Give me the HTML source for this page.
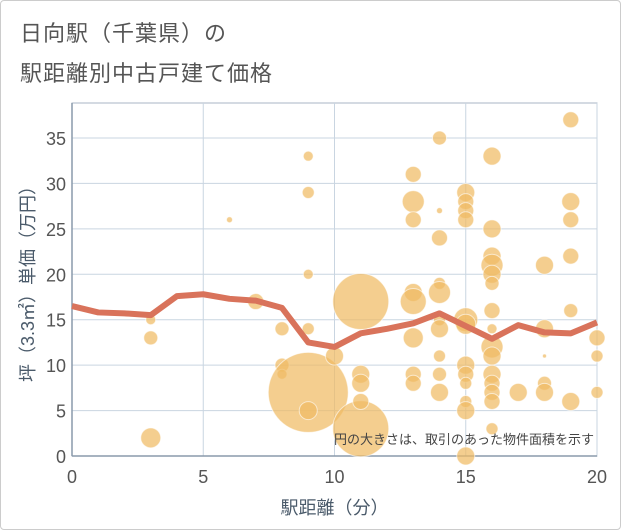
<!DOCTYPE html>
<html><head><meta charset="utf-8"><style>
body{margin:0;background:#fff;}
#wrap{position:relative;width:619px;height:528px;border:1px solid #ccc;border-radius:4px;font-family:"Liberation Sans","Noto Sans CJK JP",sans-serif;}
.t{position:absolute;left:19px;color:#555;font-size:22px;letter-spacing:1px;}
</style></head><body>
<div id="wrap">
<div class="t" style="top:15px">日向駅（千葉県）の</div>
<div class="t" style="top:55px">駅距離別中古戸建て価格</div>
<svg id="svg" width="621" height="530" style="position:absolute;left:-1px;top:-1px"></svg>
</div>
<script>
const lineX=[0,1,2,3,4,5,6,7,8,9,10,11,12,13,14,15,16,17,18,19,20];
const lineY=[16.5,15.8,15.7,15.5,17.6,17.8,17.3,17.1,16.3,12.5,12.0,13.5,14.0,14.6,15.7,14.3,12.9,14.4,13.6,13.5,14.7];
const bubX=[3,3,3,6,7,8,8,8,9,9,9,9,9,9,10,11,11,11,11,11,13,13,13,13,13,13,13,13,14,14,14,14,14,14,14,14,14,14,15,15,15,15,15,15,15,15,15,15,15,15,16,16,16,16,16,16,16,16,16,16,16,16,16,16,16,17,18,18,18,18,18,19,19,19,19,19,19,20,20,20];
const bubY=[15,13,2,26,17,14,10,9,33,29,20,14,7,5,11,17,3,9,8,6,31,28,26,18,17,13,9,8,35,27,24,19,18,15,14,11,9,7,29,28,27,26,15,14.5,10,9,8,6,5,0,33,25,22,21,20,19,16,14,12,11,9,8,7,6,3,7,21,14,11,8,7,37,28,26,22,16,6,13,11,7];
const bubR=[5,7,10,3,8,7,7,5,5,6,5,6,40,9,9,28,28,9,9,8,8,11,8,9,13,10,8,8,7,3,8,6,11,6,9,6,7,9,9,8,8,8,12,10,9,8,6,6,9,9,9,9,9,11,9,7,8,5,11,9,9,8,8,8,6,9,9,9,2,7,9,8,9,8,8,7,9,8,6,6];
const xTicks=[0,5,10,15,20];
const yTicks=[0,5,10,15,20,25,30,35];
const L=72,R=597,T=103,B=456,XMAX=20,YMAX=38.85;
const sx=v=>L+(R-L)*v/XMAX, sy=v=>B-(B-T)*v/YMAX;
const svg=document.getElementById('svg');const NS='http://www.w3.org/2000/svg';
function mk(tag,attrs,parent){const e=document.createElementNS(NS,tag);for(const k in attrs)e.setAttribute(k,attrs[k]);(parent||svg).appendChild(e);return e;}
const frame=mk('rect',{x:L,y:T,width:R-L,height:B-T,fill:'#fff',stroke:'#a9b6c4','stroke-width':1});


xTicks.forEach(v=>{const g=mk('line',{x1:sx(v),x2:sx(v),y1:T,y2:B,stroke:'#c9d5e1'});


const t=mk('text',{x:sx(v),y:B+27,'text-anchor':'middle','font-size':18,fill:'#555'});t.textContent=v;

});
yTicks.forEach(v=>{const g=mk('line',{x1:L,x2:R,y1:sy(v),y2:sy(v),stroke:'#c9d5e1'});


const t=mk('text',{x:L-6,y:sy(v)+7,'text-anchor':'end','font-size':18,fill:'#555'});t.textContent=v;

});
mk('line',{x1:L,x2:L,y1:T,y2:B,stroke:'#8a9aab','stroke-width':1.5});
mk('line',{x1:L,x2:R,y1:B,y2:B,stroke:'#8a9aab','stroke-width':1.5});
bubX.forEach((x,i)=>{const c=mk('circle',{cx:sx(x),cy:sy(bubY[i]),r:bubR[i],fill:'rgba(240,187,100,0.72)',stroke:'rgba(255,255,255,0.6)','stroke-width':1});

});
const p=mk('polyline',{points:lineX.map((x,i)=>sx(x)+','+sy(lineY[i])).join(' '),fill:'none',stroke:'#d9735b','stroke-width':6,'stroke-linejoin':'round'});


const note=mk('text',{x:594,y:444,'text-anchor':'end','font-size':13,fill:'#444'});note.textContent='円の大きさは、取引のあった物件面積を示す';


const xt=mk('text',{x:(L+R)/2,y:514,'text-anchor':'middle','font-size':18,fill:'#4a5a6a'});xt.textContent='駅距離（分）';


const yt=mk('text',{x:0,y:0,'text-anchor':'middle','font-size':18,fill:'#4a5a6a',transform:`translate(34,${(T+B)/2}) rotate(-90)`});yt.textContent='坪（3.3㎡）単価（万円）';


</script>
</body></html>
